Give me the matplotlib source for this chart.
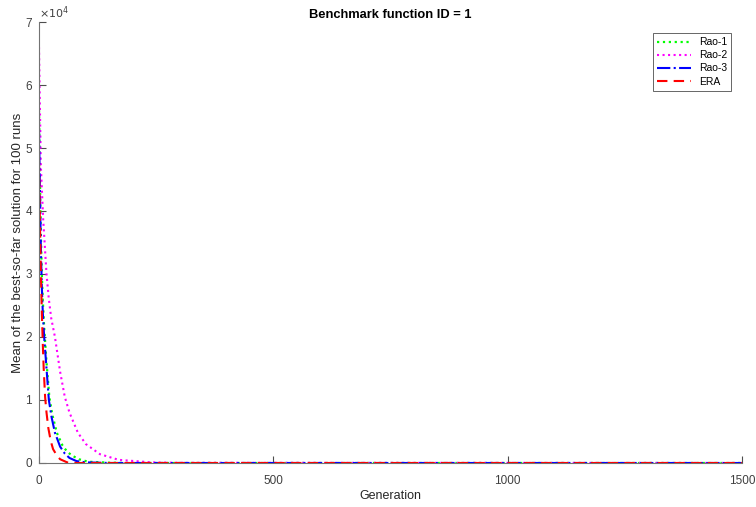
import matplotlib
matplotlib.use("Agg")
import matplotlib.pyplot as plt
from matplotlib.ticker import FuncFormatter

plt.rcParams["font.family"] = ["Liberation Sans", "DejaVu Sans"]

# mean best-so-far fitness per generation (sampled), one array per algorithm
gen_rao1 = [0, 2, 4, 6, 8, 11, 16, 22, 28, 38, 50, 60, 70, 85, 105, 150, 200, 1500]
val_rao1 = [56000, 45000, 36000, 30000, 26000, 21500, 16000, 10500, 7800, 4800,
            2800, 1800, 1200, 600, 200, 50, 0, 0]

gen_rao2 = [0, 2, 4, 9, 16, 21, 26, 34, 45, 55, 65, 83, 100, 130, 170, 240, 300, 1500]
val_rao2 = [66000, 56000, 47000, 38600, 30000, 26000, 23000, 20000, 14500, 10500,
            8000, 4800, 3000, 1400, 500, 100, 30, 0]

gen_rao3 = [0, 2, 4, 6, 8, 11, 16, 21, 27, 34, 45, 55, 65, 80, 100, 150, 1500]
val_rao3 = [53000, 43000, 34000, 28000, 24000, 20000, 15000, 10000, 7200, 4800,
            2600, 1500, 800, 300, 100, 0, 0]

gen_era = [0, 2, 4, 6, 8, 10, 13, 16, 20, 25, 30, 38, 45, 60, 80, 1500]
val_era = [48000, 38000, 30000, 24000, 19000, 15000, 10500, 8000, 5500, 3500,
           2200, 1200, 600, 100, 0, 0]

fig = plt.figure(figsize=(7.56, 5.07), dpi=100)
ax = fig.add_axes([0.0516, 0.0868, 0.9299, 0.8698])

ax.plot(gen_rao1, val_rao1, color=(0, 1, 0), linestyle=":", linewidth=1.6, label="Rao-1")
ax.plot(gen_rao2, val_rao2, color=(1, 0, 1), linestyle=":", linewidth=1.5, label="Rao-2")
ax.plot(gen_rao3, val_rao3, color=(0, 0, 1), linestyle="-.", linewidth=1.5, label="Rao-3")
ax.plot(gen_era, val_era, color=(1, 0, 0), linestyle=(0, (5, 3)), linewidth=1.5, label="ERA")

ax.set_xlim(0, 1500)
ax.set_ylim(0, 70000)
ax.set_xticks([0, 500, 1000, 1500])
ax.set_yticks([0, 10000, 20000, 30000, 40000, 50000, 60000, 70000])
ax.yaxis.set_major_formatter(FuncFormatter(lambda v, p: f"{v / 1e4:g}"))

for side in ["top", "right"]:
    ax.spines[side].set_visible(False)
for side in ["left", "bottom"]:
    ax.spines[side].set_color("0.45")
    ax.spines[side].set_linewidth(0.8)
ax.tick_params(direction="in", length=5, width=0.8, color="0.3",
               labelsize=8.5, labelcolor="0.25")
ax.tick_params(axis="x", pad=9)
ax.tick_params(axis="y", pad=5)

ax.set_xlabel("Generation", fontsize=9, color="0.15", labelpad=2)
ax.set_ylabel("Mean of the best-so-far solution for 100 runs", fontsize=9.5,
              color="0.15", labelpad=1)
ax.set_title("Benchmark function ID = 1", fontsize=9.3, fontweight="bold", pad=3)
ax.text(0.0, 1.003, r"$\times10^{4}$", transform=ax.transAxes, fontsize=8,
        color="0.25", ha="left", va="bottom")

leg = ax.legend(loc="upper right", bbox_to_anchor=(0.985, 0.975), fontsize=7.5,
                fancybox=False, framealpha=1, edgecolor="0.3",
                handlelength=3.2, borderaxespad=0, labelspacing=0.3)
leg.get_frame().set_linewidth(0.6)

fig.savefig("out.png", dpi=100)
